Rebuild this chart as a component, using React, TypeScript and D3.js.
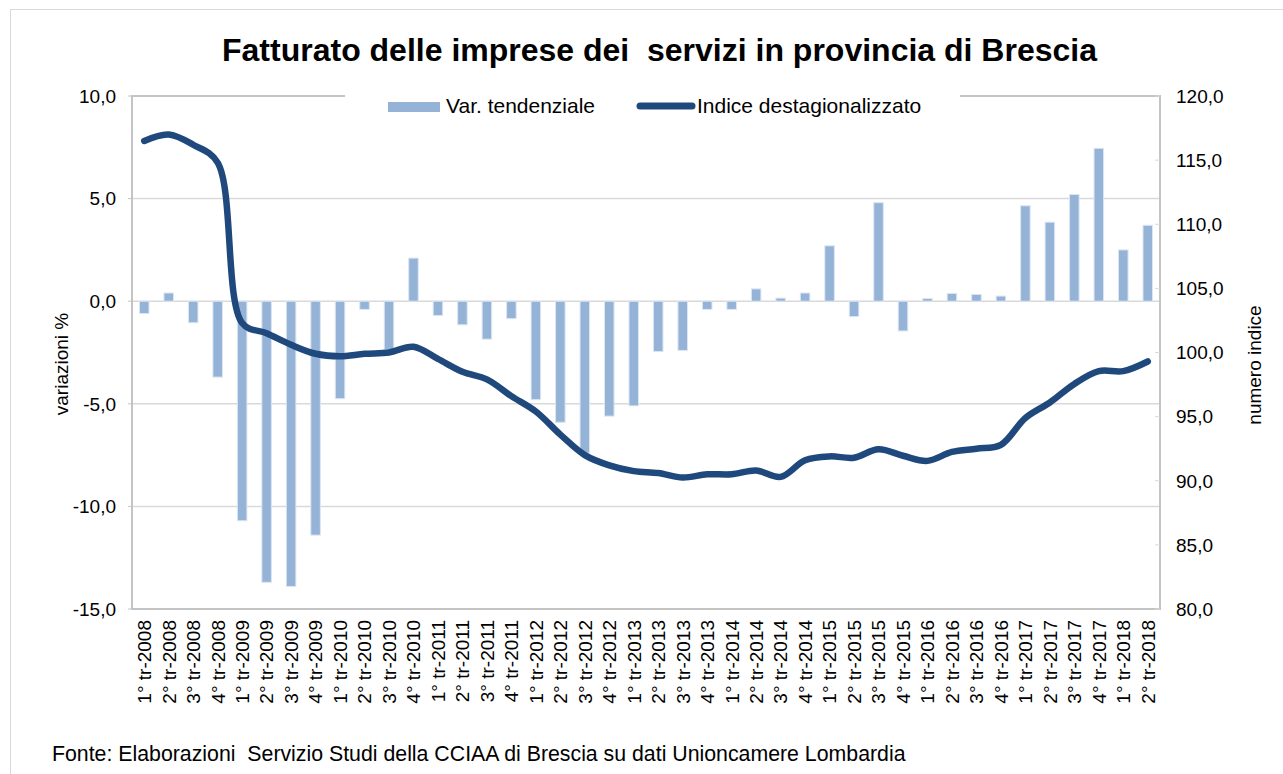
import React from "react";
import * as d3 from "d3";

const categories = [
  "1° tr-2008","2° tr-2008","3° tr-2008","4° tr-2008",
  "1° tr-2009","2° tr-2009","3° tr-2009","4° tr-2009",
  "1° tr-2010","2° tr-2010","3° tr-2010","4° tr-2010",
  "1° tr-2011","2° tr-2011","3° tr-2011","4° tr-2011",
  "1° tr-2012","2° tr-2012","3° tr-2012","4° tr-2012",
  "1° tr-2013","2° tr-2013","3° tr-2013","4° tr-2013",
  "1° tr-2014","2° tr-2014","3° tr-2014","4° tr-2014",
  "1° tr-2015","2° tr-2015","3° tr-2015","4° tr-2015",
  "1° tr-2016","2° tr-2016","3° tr-2016","4° tr-2016",
  "1° tr-2017","2° tr-2017","3° tr-2017","4° tr-2017",
  "1° tr-2018","2° tr-2018",
];

const varTendenziale = [
  -0.6, 0.4, -1.05, -3.7,
  -10.7, -13.7, -13.9, -11.4,
  -4.75, -0.4, -2.35, 2.1,
  -0.7, -1.15, -1.85, -0.85,
  -4.8, -5.9, -7.4, -5.6,
  -5.1, -2.45, -2.4, -0.4,
  -0.4, 0.6, 0.15, 0.4,
  2.7, -0.75, 4.8, -1.45,
  0.13, 0.38, 0.33, 0.25,
  4.65, 3.85, 5.2, 7.45,
  2.5, 3.7,
];

const indiceDest = [
  116.5, 117.0, 116.2, 114.8,
  102.3, 101.5, 100.6, 99.9,
  99.7, 99.9, 100.0, 100.45,
  99.5, 98.5, 97.9, 96.6,
  95.4, 93.6, 92.0, 91.2,
  90.75, 90.6, 90.25, 90.5,
  90.5, 90.8, 90.3, 91.6,
  91.9, 91.8, 92.45, 91.95,
  91.55, 92.25, 92.5, 92.8,
  94.9, 96.1, 97.55, 98.55,
  98.55, 99.3,
];

const leftTicks = [10, 5, 0, -5, -10, -15];
const rightTicks = [120, 115, 110, 105, 100, 95, 90, 85, 80];

const title = "Fatturato delle imprese dei  servizi in provincia di Brescia";
const leftTitle = "variazioni %";
const rightTitle = "numero indice";
const legendBar = "Var. tendenziale";
const legendLine = "Indice destagionalizzato";
const source = "Fonte: Elaborazioni  Servizio Studi della CCIAA di Brescia su dati Unioncamere Lombardia";

const FONT = "'Liberation Sans', Arial, Helvetica, sans-serif";
const fmt = (v: number) => v.toFixed(1).replace(".", ",");

export default function App() {
  const W = 1283, H = 774;
  const L = 132, R = 1160, T = 96, B = 609;

  const x = d3.scaleBand<string>().domain(categories).range([L, R]).padding(0);
  const yL = d3.scaleLinear().domain([-15, 10]).range([B, T]);
  const yR = d3.scaleLinear().domain([80, 120]).range([B, T]);
  const step = x.step();
  const bw = step * 0.39;
  const cx = (c: string) => (x(c) as number) + step / 2;

  const line = d3
    .line<number>()
    .x((_, i) => cx(categories[i]))
    .y((d) => yR(d))
    .curve(d3.curveCatmullRom.alpha(0.5));

  return (
    <svg
      width={W}
      height={H}
      style={{ position: "absolute", left: 0, top: 0, background: "#fff" }}
      fontFamily={FONT}
    >
      <rect x={0} y={0} width={W} height={H} fill="#fff" />
      {/* outer chart border */}
      <rect x={10.5} y={9.5} width={W + 20} height={H + 20} fill="none" stroke="#d9d9d9" strokeWidth={1} />

      {/* title */}
      <text x={659.5} y={61} textAnchor="middle" fontSize={32} fontWeight="bold" fill="#000" style={{ whiteSpace: "pre" }}>
        {title}
      </text>

      {/* gridlines */}
      {leftTicks.filter((t) => t !== 10 && t !== -15).map((t) => (
        <line key={"g" + t} x1={L} x2={R} y1={yL(t)} y2={yL(t)} stroke="#d9d9d9" strokeWidth={1.5} />
      ))}

      {/* plot area border */}
      <rect x={L} y={T} width={R - L} height={B - T} fill="none" stroke="#c4c4c4" strokeWidth={2} />

      {/* left ticks */}
      {leftTicks.map((t) => (
        <g key={"lt" + t}>
          <line x1={L - 4} x2={L} y1={yL(t)} y2={yL(t)} stroke="#c4c4c4" strokeWidth={1} />
          <text x={116} y={yL(t)} dy="0.36em" textAnchor="end" fontSize={19} fill="#000">
            {fmt(t)}
          </text>
        </g>
      ))}

      {/* right ticks */}
      {rightTicks.map((t) => (
        <g key={"rt" + t}>
          <line x1={R - 5} x2={R} y1={yR(t)} y2={yR(t)} stroke="#d9d9d9" strokeWidth={1} />
          <text x={1176} y={yR(t)} dy="0.36em" textAnchor="start" fontSize={19} fill="#000">
            {fmt(t)}
          </text>
        </g>
      ))}

      {/* bars */}
      {varTendenziale.map((v, i) => {
        const c = categories[i];
        const y0 = yL(0), y1 = yL(v);
        return (
          <rect
            key={"b" + i}
            x={cx(c) - bw / 2}
            y={Math.min(y0, y1)}
            width={bw}
            height={Math.abs(y1 - y0)}
            fill="#95b3d7"
            stroke="#dce6f2"
            strokeWidth={1}
          />
        );
      })}

      {/* line */}
      <path d={line(indiceDest) || ""} fill="none" stroke="#1f497d" strokeWidth={6.5} strokeLinecap="round" strokeLinejoin="round" />

      {/* x labels */}
      {categories.map((c) => (
        <text
          key={"x" + c}
          transform={`translate(${cx(c)},620) rotate(-90)`}
          dy="0.36em"
          textAnchor="end"
          fontSize={19}
          fill="#000"
        >
          {c}
        </text>
      ))}

      {/* axis titles */}
      <text transform="translate(68,364) rotate(-90)" textAnchor="middle" fontSize={19} fill="#000">
        {leftTitle}
      </text>
      <text transform="translate(1261,365) rotate(-90)" textAnchor="middle" fontSize={19} fill="#000">
        {rightTitle}
      </text>

      {/* legend */}
      <rect x={345} y={86} width={615} height={40} fill="#fff" />
      <rect x={388} y={102} width={52} height={10} fill="#95b3d7" />
      <text x={446} y={113} fontSize={21} fill="#000">{legendBar}</text>
      <line x1={640} x2={692} y1={106} y2={106} stroke="#1f497d" strokeWidth={7} strokeLinecap="round" />
      <text x={697} y={113} fontSize={21} fill="#000">{legendLine}</text>

      {/* source */}
      <text x={52} y={761} fontSize={21.3} fill="#000" style={{ whiteSpace: "pre" }}>
        {source}
      </text>
    </svg>
  );
}
